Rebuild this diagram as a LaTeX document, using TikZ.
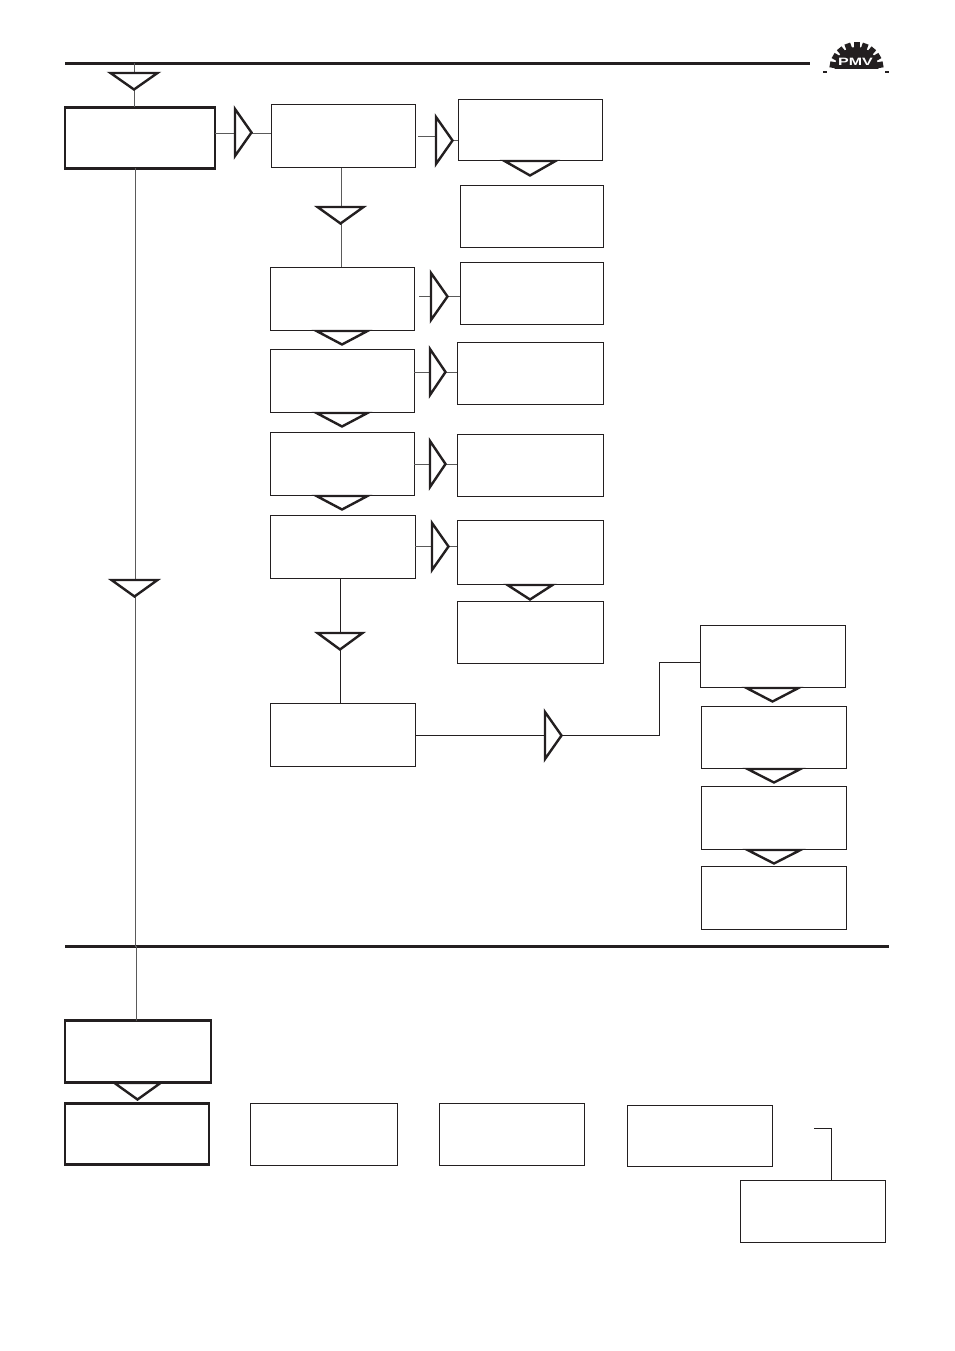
\documentclass[tikz,border=0pt]{standalone}
\usepackage{fontspec}
\setmainfont{Liberation Sans}
\definecolor{ink}{HTML}{231F20}
\definecolor{wire}{HTML}{5A5A5A}
\tikzset{x=0.75pt,y=-0.75pt,
  box/.style={draw=ink,fill=white,line width=0.75pt,rectangle,inner sep=0pt,outer sep=0pt},
  heavybox/.style={box,line width=2.2pt},
  wireline/.style={draw=wire,line width=0.7pt},
  darkline/.style={draw=ink,line width=0.55pt},
  tri/.style={draw=ink,fill=white,line width=1.8pt,line join=miter},
  rulebar/.style={draw=ink,line width=2.6pt}}
% name, x1, y1, x2, y2, style
\newcommand{\fbx}[6]{\node[#6,anchor=north west,minimum width={(#4-#2-0.8)*0.75pt},minimum height={(#5-#3-0.6)*0.75pt}] (#1) at (#2,#3+0.5) {};}
% heavy outlined box: name, x1, y1, x2, y2
\newcommand{\hbx}[5]{\node[heavybox,anchor=north west,minimum width={(#4-#2)*0.75pt},minimum height={(#5-#3-1)*0.75pt}] (#1) at (#2,#3+0.5) {};}
% down triangle: name, x1, x2, ytop, ytip
\newcommand{\tdn}[5]{\draw[tri] (#2+2.5,#4) -- (#3-2.5,#4) -- ({(#2+#3)/2},#5-0.5) -- cycle;
  \coordinate (#1) at ({(#2+#3)/2},#4);}
% right triangle: name, xleft, xtip, ytop, ybottom
\newcommand{\trt}[5]{\draw[tri] (#2,#4+2) -- (#3-0.5,{(#4+#5)/2}) -- (#2,#5-2) -- cycle;
  \coordinate (#1) at (#2,{(#4+#5)/2});}
\begin{document}
\begin{tikzpicture}
\useasboundingbox (0,0) rectangle (954,1351);
\fill[white] (0,0) rectangle (954,1351);

% rules
\coordinate (topL) at (65,63.5); \coordinate (topR) at (810,63.5);
\coordinate (botL) at (65,946.5); \coordinate (botR) at (889,946.5);
\draw[rulebar] (topL) -- (topR);
\draw[rulebar] (botL) -- (botR);

% boxes
\hbx{A}{65}{107}{215}{169}
\fbx{B}{271}{104}{416}{168}{box}
\fbx{C}{458}{99}{603}{161}{box}
\fbx{D}{460}{185}{604}{248}{box}
\fbx{E}{270}{267}{415}{331}{box}
\fbx{F}{460}{262}{604}{325}{box}
\fbx{G}{270}{349}{415}{413}{box}
\fbx{H}{457}{342}{604}{405}{box}
\fbx{I}{270}{432}{415}{496}{box}
\fbx{J}{457}{434}{604}{497}{box}
\fbx{K}{270}{515}{416}{579}{box}
\fbx{L}{457}{520}{604}{585}{box}
\fbx{M}{457}{601}{604}{664}{box}
\fbx{N}{270}{703}{416}{767}{box}
\fbx{O}{700}{625}{846}{688}{box}
\fbx{P}{701}{706}{847}{769}{box}
\fbx{Q}{701}{786}{847}{850}{box}
\fbx{R}{701}{866}{847}{930}{box}
\hbx{S}{65}{1020}{211}{1083}
\hbx{T}{65}{1103}{209}{1165}
\fbx{U}{250}{1103}{398}{1166}{box}
\fbx{V}{439}{1103}{585}{1166}{box}
\fbx{W}{627}{1105}{773}{1167}{box}
\fbx{X}{740}{1180}{886}{1243}{box}

% connectors
\draw[wireline] (134,63) -- (A.north -| 134,0);
\draw[wireline] (A.east |- 0,133) -- (B.west |- 0,133);
\draw[wireline] (418,136) -- (436,136);
\draw[wireline] (453,140) -- (C.west |- 0,140);
\draw[wireline] (B.south -| 341,0) -- (E.north -| 341,0);
\draw[wireline] (419,296) -- (431,296);
\draw[wireline] (448,296) -- (F.west |- 0,296);
\draw[wireline] (G.east |- 0,372) -- (H.west |- 0,372);
\draw[wireline] (I.east |- 0,464) -- (J.west |- 0,464);
\draw[wireline] (K.east |- 0,546) -- (L.west |- 0,546);
\draw[darkline] (K.south -| 340,0) -- (N.north -| 340,0);
\draw[darkline] (N.east |- 0,735) -- (659,735) -- (659,662) -- (O.west |- 0,662);
\draw[wireline] (A.south -| 135,0) -- (135,946) -- (136,946) -- (S.north -| 136,0);
\coordinate (hookEnd) at (814,1128);
\draw[darkline] (X.north -| 831,0) -- (831,1128) -- (hookEnd);

% down triangles
\tdn{t1}{108}{160}{73}{90}
\tdn{t2}{502}{558}{161}{176}
\tdn{t3}{315}{366}{207}{224}
\tdn{t4}{314}{370}{331}{345}
\tdn{t5}{314}{370}{413}{427}
\tdn{t6}{314}{370}{496}{510}
\tdn{t7}{505}{555}{585}{600}
\tdn{t8}{315}{365}{633}{650}
\tdn{t9}{109}{160}{580}{597}
\tdn{t10}{744}{801}{688}{702}
\tdn{t11}{745}{803}{769}{783}
\tdn{t12}{745}{803}{850}{864}
\tdn{t13}{112}{163}{1083}{1100}

% right triangles
\trt{r1}{235}{252}{107}{158}
\trt{r2}{436}{453}{115}{166}
\trt{r3}{431}{448}{271}{322}
\trt{r4}{430}{446}{347}{397}
\trt{r5}{430}{446}{439}{489}
\trt{r6}{432}{449}{521}{572}
\trt{r7}{545}{562}{710}{761}

% logo
\coordinate (gear) at (856.5,69);
\begin{scope}
\clip (825,38) rectangle (888,69);
\fill[ink] (gear) circle[radius=22];
\foreach \a in {10,30,...,170}
  \fill[ink,rotate around={\a-90:(gear)}] (853.5,69) rectangle (859.5,42);
\end{scope}
\node[inner sep=0pt,text=white,font=\bfseries\fontsize{8}{8}\selectfont,xscale=1.5] (pmv) at (855.5,62) {PMV};
\coordinate (tickA) at (823,72); \coordinate (tickB) at (885,72);
\draw[ink,line width=0.8pt] (tickA) -- ++(4,0);
\draw[ink,line width=0.8pt] (tickB) -- ++(4,0);
\end{tikzpicture}
\end{document}
